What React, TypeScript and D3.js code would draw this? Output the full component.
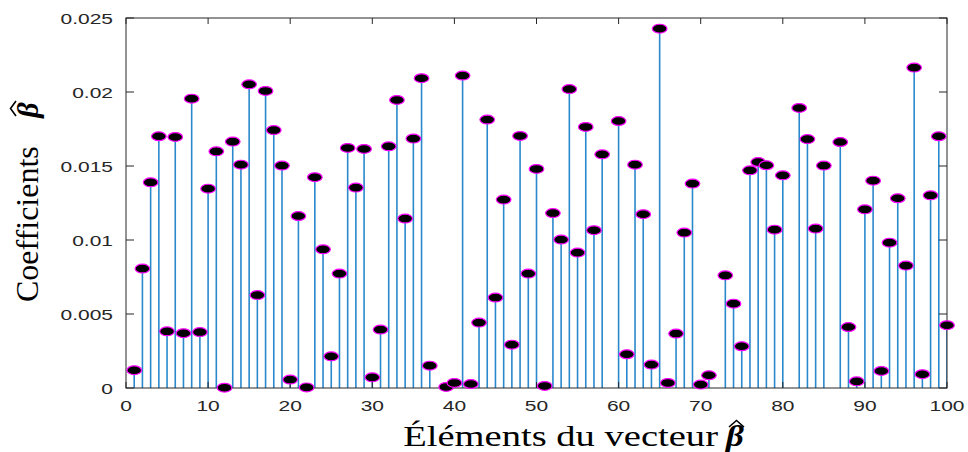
import React from "react";
import * as d3 from "d3";

const W = 968;
const H = 452;

// coefficient values for elements 1..100 (null = not visible / below axis)
const coefficients: (number | null)[] = [
  0.0012, 0.00807, 0.0139, 0.01701, 0.00383, 0.01696, 0.0037, 0.01955, 0.00378, 0.01347,
  0.01599, 0.00002, 0.01665, 0.01509, 0.02052, 0.00628, 0.02007, 0.01743, 0.01503, 0.00057,
  0.01162, 0.00004, 0.01424, 0.00937, 0.00214, 0.00773, 0.01622, 0.01354, 0.01615, 0.00072,
  0.00395, 0.01633, 0.01946, 0.01145, 0.01685, 0.02093, 0.00151, null, 0.00007, 0.00034,
  0.02111, 0.00027, 0.00442, 0.01814, 0.00611, 0.01273, 0.00293, 0.01703, 0.00773, 0.0148,
  0.00014, 0.01182, 0.01003, 0.0202, 0.00915, 0.01764, 0.01066, 0.01579, null, 0.01804,
  0.00228, 0.01509, 0.01174, 0.00158, 0.02428, 0.00034, 0.00368, 0.0105, 0.01381, 0.00023,
  0.00086, null, 0.00761, 0.0057, 0.00282, 0.01471, 0.01527, 0.01505, 0.0107, 0.01437,
  null, 0.01892, 0.01682, 0.01077, 0.01503, null, 0.01662, 0.00412, 0.00045, 0.01207,
  0.01401, 0.00115, 0.00982, 0.01282, 0.00827, 0.02165, 0.00093, 0.01302, 0.01701, 0.00424,
];

const xTicks = [0, 10, 20, 30, 40, 50, 60, 70, 80, 90, 100];
const yTicks = [0, 0.005, 0.01, 0.015, 0.02, 0.025];
const yTickLabels = ["0", "0.005", "0.01", "0.015", "0.02", "0.025"];

const left = 126;
const right = 947;
const top = 18;
const bottom = 388;

const axisColor = "#262626";
const stemColor = "#2a88cc";

export default function App() {
  const x = d3.scaleLinear().domain([0, 100]).range([left, right]);
  const y = d3.scaleLinear().domain([0, 0.025]).range([bottom, top]);

  const pts = coefficients
    .map((v, i) => ({ i: i + 1, v }))
    .filter((d) => d.v !== null) as { i: number; v: number }[];

  const tickFont = "'Liberation Sans', Arial, sans-serif";
  const serif = "'Liberation Serif', 'Times New Roman', serif";

  return (
    <svg
      width={W}
      height={H}
      style={{ position: "absolute", left: 0, top: 0, background: "#fff" }}
    >
      <rect x={0} y={0} width={W} height={H} fill="#fff" />
      <defs>
        <clipPath id="plotclip">
          <rect x={left} y={top - 20} width={right - left} height={bottom - top + 20} />
        </clipPath>
      </defs>

      {/* stems */}
      <g clipPath="url(#plotclip)">
        {pts.map((d) => (
          <line
            key={"s" + d.i}
            x1={x(d.i)}
            x2={x(d.i)}
            y1={y(0)}
            y2={y(d.v)}
            stroke={stemColor}
            strokeWidth={1.6}
          />
        ))}
      </g>

      {/* axes box */}
      <rect
        x={left}
        y={top}
        width={right - left}
        height={bottom - top}
        fill="none"
        stroke={axisColor}
        strokeWidth={1}
      />
      {xTicks.map((t) => (
        <g key={"xt" + t}>
          <line x1={x(t)} x2={x(t)} y1={bottom} y2={bottom - 6} stroke={axisColor} />
          <line x1={x(t)} x2={x(t)} y1={top} y2={top + 6} stroke={axisColor} />
          <text
            transform={`translate(${x(t)},${bottom + 23}) scale(1.4,1)`}
            textAnchor="middle"
            fontFamily={tickFont}
            fontSize={15}
            fill={axisColor}
          >
            {t}
          </text>
        </g>
      ))}
      {yTicks.map((t, k) => (
        <g key={"yt" + t}>
          <line x1={left} x2={left + 8} y1={y(t)} y2={y(t)} stroke={axisColor} />
          <line x1={right} x2={right - 8} y1={y(t)} y2={y(t)} stroke={axisColor} />
          <text
            transform={`translate(${left - 13},${y(t) + 5.5}) scale(1.4,1)`}
            textAnchor="end"
            fontFamily={tickFont}
            fontSize={15}
            fill={axisColor}
          >
            {yTickLabels[k]}
          </text>
        </g>
      ))}

      {/* markers */}
      {pts.map((d) => (
        <ellipse
          key={"m" + d.i}
          cx={x(d.i)}
          cy={y(d.v)}
          rx={7.3}
          ry={4.4}
          fill="#000"
          stroke="#ff00ff"
          strokeWidth={1.2}
        />
      ))}

      {/* x label */}
      <text
        transform={`translate(718,446) scale(1.33,1)`}
        textAnchor="end"
        fontFamily={serif}
        fontSize={29}
        fill="#000"
      >
        Éléments du vecteur
      </text>
      <text
        transform={`translate(735,446) scale(1.2,1)`}
        textAnchor="middle"
        fontFamily={serif}
        fontSize={29}
        fontWeight="bold"
        fontStyle="italic"
        fill="#000"
      >
        β
      </text>
      <path
        d="M729,427 L736.5,420.5 L744,427"
        fill="none"
        stroke="#000"
        strokeWidth={1.6}
        strokeLinejoin="miter"
      />

      {/* y label */}
      <g transform="translate(38,302) rotate(-90)">
        <text
          x={0}
          y={0}
          textAnchor="start"
          fontFamily={serif}
          fontSize={32}
          fill="#000"
        >
          Coefficients
        </text>
        <text
          x={192}
          y={0}
          textAnchor="middle"
          fontFamily={serif}
          fontSize={30}
          fontWeight="bold"
          fontStyle="italic"
          fill="#000"
        >
          β
        </text>
        <path
          d="M186,-22 L193.5,-27.5 L201,-22"
          fill="none"
          stroke="#000"
          strokeWidth={1.6}
        />
      </g>
    </svg>
  );
}
